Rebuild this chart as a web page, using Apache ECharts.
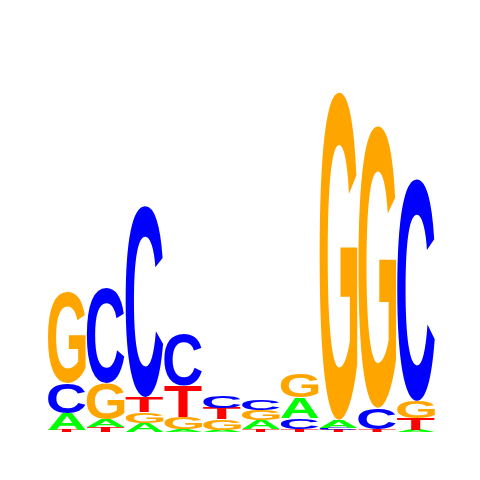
<!DOCTYPE html>
<html lang="en">
<head>
    <meta charset="UTF-8">
    <title>Sequence logo</title>
    <script src="https://cdn.jsdelivr.net/npm/echarts@6/dist/echarts.min.js"></script>
    <style>
        html, body { margin: 0; padding: 0; background: #fff; }
        #chart { width: 480px; height: 480px; }
    </style>
</head>
<body>
    <div id="chart"></div>
    <script>
        // positions of the motif, and letter heights in bits for each one
        const positions = ['1', '2', '3', '4', '5', '6', '7', '8', '9', '10'];
        const bitsA = [0.100, 0.047, 0.053, 0.018, 0.012, 0.053, 0.118, 0.047, 0.000, 0.012];
        const bitsC = [0.176, 0.559, 1.124, 0.300, 0.071, 0.060, 0.065, 0.013, 0.124, 1.306];
        const bitsG = [0.535, 0.212, 0.065, 0.071, 0.064, 0.058, 0.141, 1.929, 1.659, 0.100];
        const bitsT = [0.012, 0.029, 0.088, 0.182, 0.066, 0.018, 0.018, 0.012, 0.018, 0.071];

        const letterColors = { A: '#00ff00', C: '#0000ff', G: '#ffa500', T: '#ff0000' };
        const FONT_SIZE = 100;
        const FONT_FAMILY = 'Liberation Sans';

        // measure the ink box of each glyph (zrender draws text with textBaseline 'middle')
        const measureCtx = document.createElement('canvas').getContext('2d');
        measureCtx.font = 'bold ' + FONT_SIZE + 'px ' + FONT_FAMILY;
        measureCtx.textAlign = 'center';
        measureCtx.textBaseline = 'middle';
        const glyphBox = {};
        ['A', 'C', 'G', 'T'].forEach(function (l) {
            const m = measureCtx.measureText(l);
            glyphBox[l] = {
                left: m.actualBoundingBoxLeft,
                right: m.actualBoundingBoxRight,
                asc: m.actualBoundingBoxAscent,
                desc: m.actualBoundingBoxDescent
            };
        });

        // stack letters per position, smallest at the bottom
        const stacks = [];
        positions.forEach(function (p, i) {
            const col = [
                { l: 'A', v: bitsA[i] }, { l: 'C', v: bitsC[i] },
                { l: 'G', v: bitsG[i] }, { l: 'T', v: bitsT[i] }
            ].filter(d => d.v > 0).sort((a, b) => a.v - b.v);
            let y0 = 0;
            col.forEach(function (d) {
                stacks.push({ value: [i, y0, y0 + d.v], letter: d.l });
                y0 += d.v;
            });
        });

        function renderLetter(params, api) {
            const item = stacks[params.dataIndex];
            const pos = api.value(0);
            const bottom = api.coord([pos, api.value(1)]);
            const top = api.coord([pos, api.value(2)]);
            const band = api.size([1, 0])[0];
            const w = band - 1;
            const h = bottom[1] - top[1];
            if (h < 0.3) return null;
            const box = glyphBox[item.letter];
            const sx = w / (box.left + box.right);
            const sy = h / (box.asc + box.desc);
            return {
                type: 'text',
                x: bottom[0] - w / 2 + box.left * sx,
                y: top[1] + box.asc * sy,
                scaleX: sx,
                scaleY: sy,
                style: {
                    text: item.letter,
                    x: 0,
                    y: 0,
                    fill: letterColors[item.letter],
                    fontSize: FONT_SIZE,
                    fontWeight: 'bold',
                    fontFamily: FONT_FAMILY,
                    align: 'center',
                    verticalAlign: 'middle'
                }
            };
        }

        const chart = echarts.init(document.getElementById('chart'));
        chart.setOption({
            animation: false,
            backgroundColor: '#ffffff',
            grid: { left: 47.5, right: 44.5, top: 92, bottom: 48 },
            xAxis: {
                type: 'category',
                data: positions,
                show: false
            },
            yAxis: {
                type: 'value',
                min: 0,
                max: 2,
                show: false
            },
            series: [{
                type: 'custom',
                silent: true,
                renderItem: renderLetter,
                data: stacks.map(s => s.value)
            }]
        });
    </script>
</body>
</html>
